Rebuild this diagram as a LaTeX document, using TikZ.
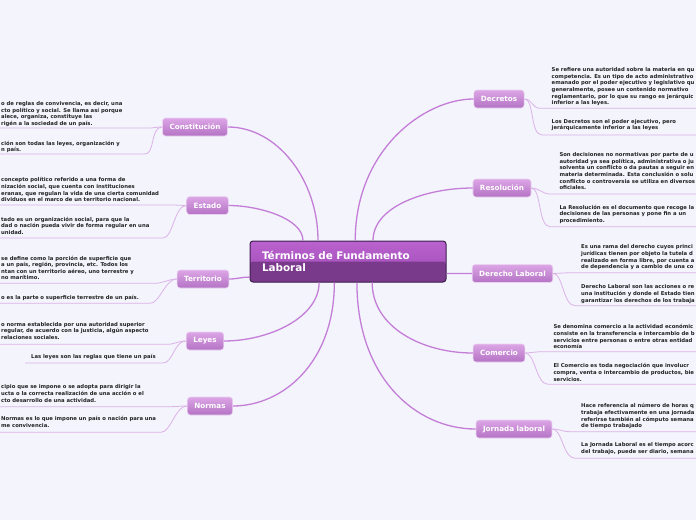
\documentclass[tikz,border=0pt]{standalone}
\usepackage{fontspec}
\setmainfont{DejaVu Sans}
\definecolor{bgcol}{HTML}{F3F4FC}
\definecolor{branchtop}{HTML}{DCA6E6}
\definecolor{branchbot}{HTML}{B472C4}
\definecolor{branchline}{HTML}{EBD2F1}
\definecolor{maintop}{HTML}{BA62CE}
\definecolor{mainmid}{HTML}{9C4AB4}
\definecolor{mainlow}{HTML}{7A3A8C}
\definecolor{mainborder}{HTML}{3E1E4E}
\definecolor{mainlinecol}{HTML}{C47ED8}
\definecolor{sublinecol}{HTML}{DDB2E9}
\definecolor{notetext}{HTML}{222222}
\begin{document}
\begin{tikzpicture}[x=1pt,y=-1pt,
    branch/.style={rounded corners=3pt, draw=branchline, line width=0.6pt,
      top color=branchtop, bottom color=branchbot, text=white,
      font=\fontsize{7.2}{8}\selectfont\bfseries,
      minimum height=18pt, inner xsep=7pt, inner ysep=0pt},
    mainbox/.style={rounded corners=3pt, draw=mainborder, line width=1pt,
      top color=maintop, bottom color=mainmid, text=white,
      minimum width=196pt, minimum height=41pt, text width=172pt,
      inner xsep=12pt, align=left,
      font=\fontsize{10.4}{12}\selectfont\bfseries,
      path picture={\fill[mainlow] (path picture bounding box.west)
        rectangle (path picture bounding box.south east);}},
    note/.style={anchor=north west, inner sep=0pt, align=left, text=notetext,
      font=\fontsize{5.3}{6.6}\selectfont\bfseries},
    mainline/.style={draw=mainlinecol, line width=1.3pt},
    subline/.style={draw=sublinecol, line width=0.8pt}]

    \useasboundingbox (0,0) rectangle (696,520);
    \clip (0,0) rectangle (696,520);
    \fill[bgcol] (0,0) rectangle (696,520);
    \coordinate (L) at (0,0);
    \coordinate (R) at (696,0);

    % nodo central
    \node[mainbox] (main) at (348,261.5) {Términos de Fundamento\\Laboral};

    % ramas izquierdas
    \node[branch] (constitucion) at (195,127) {Constitución};
    \node[branch] (estado) at (207.5,205.5) {Estado};
    \node[branch] (territorio) at (203,279) {Territorio};
    \node[branch] (leyes) at (205,341) {Leyes};
    \node[branch] (normas) at (210,406) {Normas};

    % ramas derechas
    \node[branch] (decretos) at (499,99) {Decretos};
    \node[branch] (resolucion) at (502,188) {Resolución};
    \node[branch] (derecho) at (512.5,273.5) {Derecho Laboral};
    \node[branch] (comercio) at (499,353) {Comercio};
    \node[branch] (jornada) at (514,429) {Jornada laboral};

    % conectores principales
    \draw[mainline] (main.145.7) .. controls +(0,-60) and +(50,0) .. (constitucion.east);
    \draw[mainline] (main.155.5) .. controls +(0,-22) and +(30,0) .. (estado.east);
    \draw[mainline] (main.189) .. controls +(-8,0) and +(8,0) .. (territorio.east);
    \draw[mainline] (main.216.2) .. controls +(0,35) and +(45,0) .. (leyes.east);
    \draw[mainline] (main.237.6) .. controls +(0,80) and +(50,0) .. (normas.east);
    \draw[mainline] (main.71) .. controls +(0,-90) and +(-50,0) .. (decretos.west);
    \draw[mainline] (main.40.5) .. controls +(0,-35) and +(-45,0) .. (resolucion.west);
    \draw[mainline] (main.353.3) .. controls +(10,0) and +(-10,0) .. (derecho.west);
    \draw[mainline] (main.319.5) .. controls +(0,45) and +(-50,0) .. (comercio.west);
    \draw[mainline] (main.293.7) .. controls +(0,95) and +(-60,0) .. (jornada.west);

    % Constitución
    \node[note] (conA) at (1,101.4) {o de reglas de convivencia, es decir, una\\cto político y social. Se llama así porque\\alece, organiza, constituye las\\rigén a la sociedad de un país.};
    \node[note] (conB) at (1,140.7) {ción son todas las leyes, organización y\\n país.};
    \coordinate (conA-u) at (148,128);
    \coordinate (conB-u) at (145,154);
    \draw[subline] (constitucion.west) .. controls +(-8,0) and +(8,0) .. (conA-u) -- (conA-u -| L);
    \draw[subline] (constitucion.west) .. controls +(-12,0) and +(10,0) .. (conB-u) -- (conB-u -| L);

    % Estado
    \node[note] (estA) at (1,177.4) {concepto político referido a una forma de\\nización social, que cuenta con instituciones\\eranas, que regulan la vida de una cierta comunidad\\dividuos en el marco de un territorio nacional.};
    \node[note] (estB) at (1,216.7) {tado es un organización social, para que la\\dad o nación pueda vivir de forma regular en una\\unidad.};
    \coordinate (estA-u) at (173,205);
    \coordinate (estB-u) at (163,238);
    \draw[subline] (estado.west) .. controls +(-6,0) and +(6,0) .. (estA-u) -- (estA-u -| L);
    \draw[subline] (estado.west) .. controls +(-12,0) and +(10,0) .. (estB-u) -- (estB-u -| L);

    % Territorio
    \node[note] (terA) at (1,255.7) {se define como la porción de superficie que\\a un país, región, provincia, etc. Todos los\\ntan con un territorio aéreo, uno terrestre y\\no marítimo.};
    \node[note] (terB) at (1,295.1) {o es la parte o superficie terrestre de un país.};
    \coordinate (terA-u) at (155,283.3);
    \coordinate (terB-u) at (150,303.3);
    \draw[subline] (territorio.west) .. controls +(-8,0) and +(8,0) .. (terA-u) -- (terA-u -| L);
    \draw[subline] (territorio.west) .. controls +(-12,0) and +(10,0) .. (terB-u) -- (terB-u -| L);

    % Leyes
    \node[note] (leyA) at (1,322.1) {o norma establecida por una autoridad superior\\regular, de acuerdo con la justicia, algún aspecto\\relaciones sociales.};
    \node[note] (leyB) at (31,354.4) {Las leyes son las reglas que tiene un país};
    \coordinate (leyA-u) at (167,344.3);
    \coordinate (leyB-u) at (163,363);
    \coordinate (leyB-l) at (25,363);
    \draw[subline] (leyes.west) .. controls +(-8,0) and +(8,0) .. (leyA-u) -- (leyA-u -| L);
    \draw[subline] (leyes.west) .. controls +(-12,0) and +(10,0) .. (leyB-u) -- (leyB-l);

    % Normas
    \node[note] (norA) at (1,384.7) {cipio que se impone o se adopta para dirigir la\\ucta o la correcta realización de una acción o el\\cto desarrollo de una actividad.};
    \node[note] (norB) at (1,416.4) {Normas es lo que impone un país o nación para una\\me convivencia.};
    \coordinate (norA-u) at (170,406.7);
    \coordinate (norB-u) at (161,432.3);
    \draw[subline] (normas.west) .. controls +(-6,0) and +(6,0) .. (norA-u) -- (norA-u -| L);
    \draw[subline] (normas.west) .. controls +(-12,0) and +(10,0) .. (norB-u) -- (norB-u -| L);

    % Decretos
    \node[note] (decA) at (551.5,67.4) {Se refiere una autoridad sobre la materia en qu\\competencia. Es un tipo de acto administrativo\\emanado por el poder ejecutivo y legislativo qu\\generalmente, posee un contenido normativo\\reglamentario, por lo que su rango es jerárquic\\inferior a las leyes.};
    \node[note] (decB) at (551.5,119.1) {Los Decretos son el poder ejecutivo, pero\\jerárquicamente inferior a las leyes};
    \coordinate (decA-u) at (540,108.3);
    \coordinate (decB-u) at (542,135);
    \draw[subline] (decretos.east) .. controls +(8,0) and +(-8,0) .. (decA-u) -- (decA-u -| R);
    \draw[subline] (decretos.east) .. controls +(10,0) and +(-12,0) .. (decB-u) -- (decB-u -| R);

    % Resolución
    \node[note] (resA) at (559.3,152.4) {Son decisiones no normativas por parte de u\\autoridad ya sea política, administrativa o ju\\solventa un conflicto o da pautas a seguir en\\materia determinada. Esta conclusión o solu\\conflicto o controversia se utiliza en diversos\\oficiales.};
    \node[note] (resB) at (559.3,204.7) {La Resolución es el documento que recoge la\\decisiones de las personas y pone fin a un\\procedimiento.};
    \coordinate (resA-u) at (550,194);
    \coordinate (resB-u) at (550,226.7);
    \draw[subline] (resolucion.east) .. controls +(8,0) and +(-8,0) .. (resA-u) -- (resA-u -| R);
    \draw[subline] (resolucion.east) .. controls +(10,0) and +(-12,0) .. (resB-u) -- (resB-u -| R);

    % Derecho Laboral
    \node[note] (derA) at (581,244.7) {Es una rama del derecho cuyos princi\\jurídicas tienen por objeto la tutela d\\realizado en forma libre, por cuenta a\\de dependencia y a cambio de una co};
    \node[note] (derB) at (581,284.7) {Derecho Laboral son las acciones o re\\una institución y donde el Estado tien\\garantizar los derechos de los trabaja};
    \coordinate (derA-u) at (570,272.7);
    \coordinate (derB-u) at (575,305.7);
    \draw[subline] (derecho.east) .. controls +(8,0) and +(-8,0) .. (derA-u) -- (derA-u -| R);
    \draw[subline] (derecho.east) .. controls +(10,0) and +(-12,0) .. (derB-u) -- (derB-u -| R);

    % Comercio
    \node[note] (comA) at (553.3,324.4) {Se denomina comercio a la actividad económic\\consiste en la transferencia e intercambio de b\\servicios entre personas o entre otras entidad\\economía};
    \node[note] (comB) at (553.3,363.4) {El Comercio es  toda negociación que involucr\\compra, venta o intercambio de productos, bie\\servicios.};
    \coordinate (comA-u) at (540,351.7);
    \coordinate (comB-u) at (548,384.3);
    \draw[subline] (comercio.east) .. controls +(8,0) and +(-8,0) .. (comA-u) -- (comA-u -| R);
    \draw[subline] (comercio.east) .. controls +(10,0) and +(-12,0) .. (comB-u) -- (comB-u -| R);

    % Jornada laboral
    \node[note] (jorA) at (581,403.4) {Hace referencia al número de horas q\\trabaja efectivamente en una jornada\\referirse también al cómputo semana\\de tiempo trabajado};
    \node[note] (jorB) at (581,442.4) {La Jornada Laboral es el tiempo acorc\\del trabajo, puede ser diario, semana};
    \coordinate (jorA-u) at (570,431.7);
    \coordinate (jorB-u) at (575,458.3);
    \draw[subline] (jornada.east) .. controls +(8,0) and +(-8,0) .. (jorA-u) -- (jorA-u -| R);
    \draw[subline] (jornada.east) .. controls +(10,0) and +(-12,0) .. (jorB-u) -- (jorB-u -| R);
\end{tikzpicture}
\end{document}
